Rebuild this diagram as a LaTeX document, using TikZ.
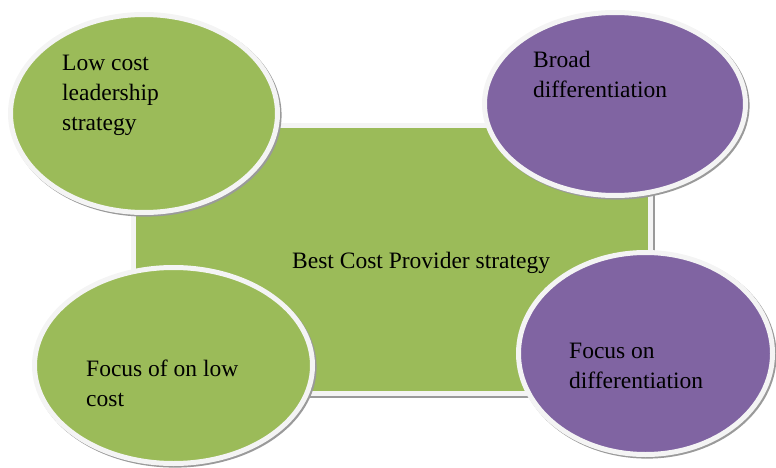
\documentclass[tikz,border=0pt]{standalone}
\usepackage{fontspec}
\setmainfont{Liberation Serif}
\usetikzlibrary{shapes.geometric}
\definecolor{leaf}{HTML}{9BBB59}
\definecolor{plum}{HTML}{8064A2}
\definecolor{rimc}{HTML}{F4F4F4}
\definecolor{shadowc}{HTML}{9A9A9A}

\begin{document}
\begin{tikzpicture}[x=1pt,y=-1pt,
  framed/.style={draw=rimc, line width=5pt, inner sep=0pt,
    preaction={draw=shadowc, line width=5pt,
      transform canvas={shift={(1.6pt,-1.6pt)}}}},
  panel/.style={framed, rectangle, fill=leaf},
  greenblob/.style={framed, ellipse, fill=leaf},
  purpleblob/.style={framed, ellipse, fill=plum},
  % multi-line captions are placed by the baseline of their last line
  caption/.style={anchor=base west, align=left, inner sep=0pt,
    font=\fontsize{23.5}{30}\selectfont, text=black}]

  \useasboundingbox (0,0) rectangle (776,468);

  % central strategy panel
  \node[panel, minimum width=517pt, minimum height=268pt] (core) at (392,259.5) {};
  \node[caption] (coretext) at (292,268) {Best Cost Provider strategy};

  % generic strategies around the panel
  \node[greenblob, minimum width=267pt, minimum height=198pt] (lowcost) at (144,113.5) {};
  \node[caption] (lowcosttext) at (62,131) {Low cost\\leadership\\strategy};

  \node[purpleblob, minimum width=261pt, minimum height=183pt] (broad) at (615,104) {};
  \node[caption] (broadtext) at (533,98) {Broad\\differentiation};

  \node[greenblob, minimum width=278pt, minimum height=196pt] (focuslow) at (173.5,365.5) {};
  \node[caption] (focuslowtext) at (86,406) {Focus of on low\\cost};

  \node[purpleblob, minimum width=254pt, minimum height=202pt] (focusdiff) at (645.5,353.5) {};
  \node[caption] (focusdifftext) at (569,388) {Focus on\\differentiation};
\end{tikzpicture}
\end{document}
